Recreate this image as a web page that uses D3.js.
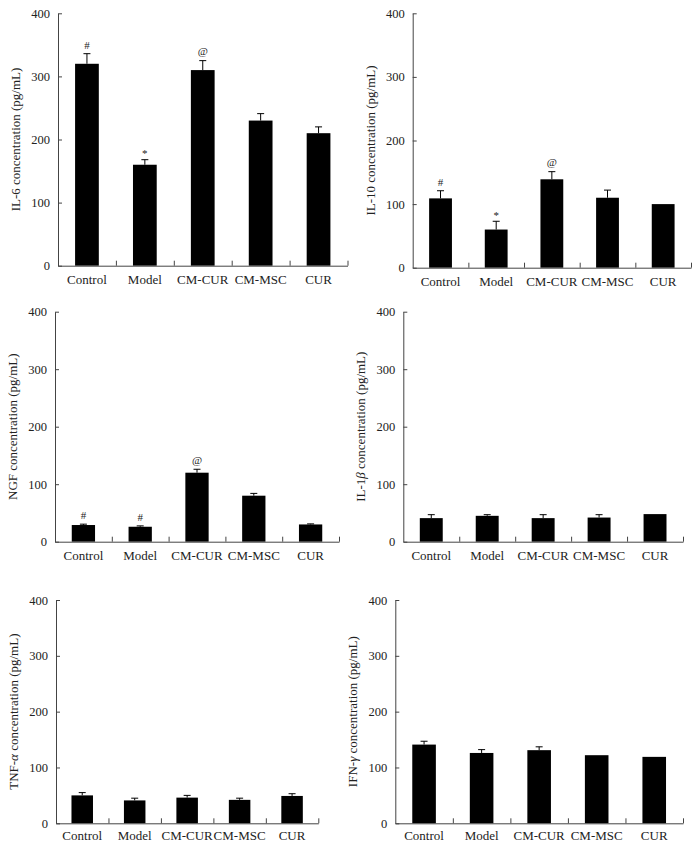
<!DOCTYPE html>
<html>
<head>
<meta charset="utf-8">
<script src="https://cdn.jsdelivr.net/npm/d3@7"></script>
<style>
  body { margin: 0; background: #fff; }
  svg { display: block; font-family: "Liberation Serif", "DejaVu Serif", serif; }
</style>
</head>
<body>
<svg id="chart" width="692" height="847"></svg>
<script>
// groups on the x axis
const groups = ['Control', 'Model', 'CM-CUR', 'CM-MSC', 'CUR'];
const yTicks = [0, 100, 200, 300, 400];

// mean values (pg/mL)
const il6Values = [320, 160, 310, 230, 210];
const il6Errors = [16, 8, 15, 11, 10];
const il6Marks = ['#', '*', '@', '', ''];

const il10Values = [109, 60, 139, 110, 100];
const il10Errors = [12, 13, 12, 12, 0];
const il10Marks = ['#', '*', '@', '', ''];

const ngfValues = [29, 26, 120, 80, 30];
const ngfErrors = [1.5, 1.5, 6, 4, 1];
const ngfMarks = ['#', '#', '@', '', ''];

const il1bValues = [41, 45, 41, 42, 48];
const il1bErrors = [6, 2, 6, 5, 0];
const il1bMarks = ['', '', '', '', ''];

const tnfValues = [50, 41, 46, 42, 49];
const tnfErrors = [5, 4, 4, 3, 4];
const tnfMarks = ['', '', '', '', ''];

const ifnValues = [141, 126, 131, 122, 119];
const ifnErrors = [6, 6, 6, 0, 0];
const ifnMarks = ['', '', '', '', ''];

// label parts: [plain, greek(italic), rest]
const panels = [
    { label: ['IL-6', '', ' concentration (pg/mL)'], values: il6Values, errors: il6Errors, marks: il6Marks,
      box: { x0: 58, x1: 347.5, top: 13.3, bottom: 265.7 } },
    { label: ['IL-10', '', ' concentration (pg/mL)'], values: il10Values, errors: il10Errors, marks: il10Marks,
      box: { x0: 412.7, x1: 691, top: 13.3, bottom: 267.7 } },
    { label: ['NGF', '', ' concentration (pg/mL)'], values: ngfValues, errors: ngfErrors, marks: ngfMarks,
      box: { x0: 55, x1: 339, top: 311.7, bottom: 541.7 } },
    { label: ['IL-1', '\u03B2', ' concentration (pg/mL)'], values: il1bValues, errors: il1bErrors, marks: il1bMarks,
      box: { x0: 403.3, x1: 683, top: 311.7, bottom: 541.7 } },
    { label: ['TNF-', '\u03B1', ' concentration (pg/mL)'], values: tnfValues, errors: tnfErrors, marks: tnfMarks,
      box: { x0: 56, x1: 318.3, top: 600, bottom: 823.3 } },
    { label: ['IFN-', '\u03B3', ' concentration (pg/mL)'], values: ifnValues, errors: ifnErrors, marks: ifnMarks,
      box: { x0: 395.3, x1: 683, top: 600, bottom: 823.3 } }
];

const axisColor = '#444';
const markShift = { '#': 5, '@': 5.5, '*': 2.2 };

const svg = d3.select('#chart');

function barPanel(selection, p, labelGap) {
    const b = p.box;
    const data = groups.map((g, i) => ({ group: g, value: p.values[i], err: p.errors[i], mark: p.marks[i] }));

    const g = selection.append('g').attr('transform', `translate(${b.x0},0)`);
    const w = b.x1 - b.x0;

    const xScale = d3.scaleBand()
        .domain(groups)
        .range([0, w])
        .paddingInner(0.59)
        .paddingOuter(0.295);

    const yScale = d3.scaleLinear()
        .domain([0, 400])
        .range([b.bottom, b.top]);

    // bars
    g.selectAll('rect.bar')
        .data(data)
        .join('rect')
        .attr('class', 'bar')
        .attr('x', d => xScale(d.group))
        .attr('width', xScale.bandwidth())
        .attr('y', d => yScale(d.value))
        .attr('height', d => yScale(0) - yScale(d.value))
        .attr('fill', '#000');

    // error bars (upper half only)
    const errs = g.selectAll('g.err')
        .data(data.filter(d => d.err > 0))
        .join('g')
        .attr('class', 'err')
        .attr('transform', d => `translate(${xScale(d.group) + xScale.bandwidth() / 2},0)`);
    errs.append('line')
        .attr('y1', d => yScale(d.value))
        .attr('y2', d => yScale(d.value + d.err))
        .attr('stroke', '#000');
    errs.append('line')
        .attr('x1', -3.5).attr('x2', 3.5)
        .attr('y1', d => yScale(d.value + d.err))
        .attr('y2', d => yScale(d.value + d.err))
        .attr('stroke', '#000');

    // significance marks
    g.selectAll('text.mark')
        .data(data.filter(d => d.mark))
        .join('text')
        .attr('class', 'mark')
        .attr('x', d => xScale(d.group) + xScale.bandwidth() / 2)
        .attr('y', d => yScale(d.value + d.err) - markShift[d.mark])
        .attr('text-anchor', 'middle')
        .attr('font-size', 11)
        .attr('fill', '#222')
        .text(d => d.mark);

    // y axis, ticks pointing inward
    const yAxis = g.append('g')
        .call(d3.axisLeft(yScale).tickValues(yTicks).tickSize(-4).tickSizeOuter(0).tickPadding(8));
    yAxis.selectAll('path, line').attr('stroke', axisColor);
    yAxis.selectAll('text').attr('font-size', 12.5).attr('fill', '#222')
        .attr('font-family', '"Liberation Serif", serif');

    // x axis: baseline with ticks at the group boundaries
    const xLin = d3.scaleLinear().domain([0, groups.length]).range([0, w]);
    const xAxis = g.append('g')
        .attr('transform', `translate(0,${b.bottom})`)
        .call(d3.axisBottom(xLin).tickValues(d3.range(1, groups.length + 1)).tickSize(-5).tickSizeOuter(0).tickFormat(''));
    xAxis.selectAll('path, line').attr('stroke', axisColor);

    // group labels
    g.selectAll('text.grp')
        .data(groups)
        .join('text')
        .attr('class', 'grp')
        .attr('x', d => xScale(d) + xScale.bandwidth() / 2)
        .attr('y', b.bottom + labelGap)
        .attr('text-anchor', 'middle')
        .attr('font-size', 13)
        .attr('fill', '#222')
        .text(d => d);

    // y axis title
    const title = g.append('text')
        .attr('transform', `translate(-41,${(b.top + b.bottom) / 2}) rotate(-90)`)
        .attr('text-anchor', 'middle')
        .attr('dominant-baseline', 'middle')
        .attr('font-size', 13)
        .attr('fill', '#222');
    title.append('tspan').text(p.label[0]);
    if (p.label[1]) title.append('tspan').attr('font-style', 'italic').text(p.label[1]);
    title.append('tspan').text(p.label[2]);
}

panels.forEach((p, i) => barPanel(svg, p, i >= 4 ? 16.5 : 18.5));
</script>
</body>
</html>
